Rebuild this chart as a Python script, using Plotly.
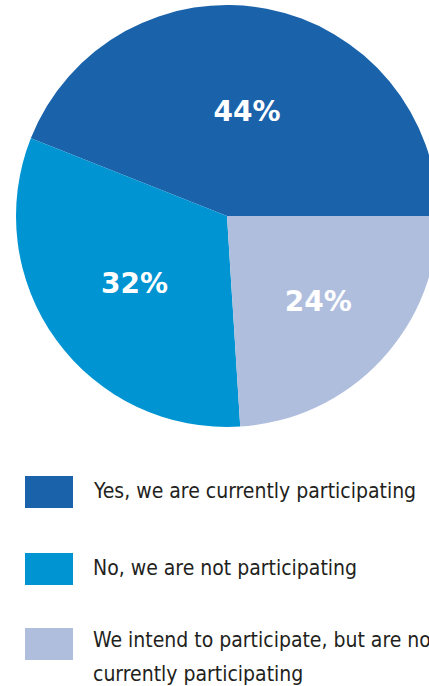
import plotly.graph_objects as go

# Survey responses
labels = [
    "Yes, we are currently participating",
    "No, we are not participating",
    "We intend to participate, but are not<br>currently participating",
]
values = [44, 32, 24]
colors = ["#1A63AB", "#0095D2", "#B0BEDE"]

W, H = 441, 686
cx, cy, R = 227, 216, 211  # pie centre and radius in px

# first slice runs counter-clockwise from 3 o'clock; plotly's rotation marks
# the clockwise-most edge of that slice, measured clockwise from 12 o'clock
start_rot = 90 - 360 * values[0] / sum(values)


def px_x(x):
    return x / W


def px_y(y):
    return 1 - y / H


fig = go.Figure(
    go.Pie(
        labels=labels,
        values=values,
        marker=dict(colors=colors, line=dict(width=0)),
        sort=False,
        direction="counterclockwise",
        rotation=start_rot,
        texttemplate="%{value}%",
        textposition="inside",
        insidetextorientation="horizontal",
        insidetextfont=dict(family="DejaVu Sans", size=28, color="white", weight="bold"),
        hoverinfo="label+percent",
        domain=dict(
            x=[px_x(cx - R), px_x(cx + R)],
            y=[px_y(cy + R), px_y(cy - R)],
        ),
        showlegend=False,
    )
)

# Hand-built legend: colour swatch + label per slice
swatch_top = [476, 553, 628]
first_baseline = [498, 575, 647]
line_gap = 34
fsize = 21
legend_font = dict(
    family="DejaVu Sans Condensed, Liberation Sans Narrow, Liberation Sans, sans-serif",
    size=fsize,
    color="#231F20",
)

shapes, annotations = [], []
for lab, col, top, base in zip(labels, colors, swatch_top, first_baseline):
    shapes.append(
        dict(
            type="rect", xref="paper", yref="paper",
            x0=px_x(25), x1=px_x(73), y0=px_y(top + 32), y1=px_y(top),
            fillcolor=col, line=dict(width=0),
        )
    )
    for i, line in enumerate(lab.split("<br>")):
        b = base + i * line_gap
        annotations.append(
            dict(
                xref="paper", yref="paper",
                x=px_x(91), y=px_y(b - 0.3465 * fsize),
                xanchor="left", yanchor="middle",
                text=line, showarrow=False, align="left",
                font=legend_font,
            )
        )

fig.update_layout(
    width=W,
    height=H,
    margin=dict(l=0, r=0, t=0, b=0),
    paper_bgcolor="white",
    plot_bgcolor="white",
    shapes=shapes,
    annotations=annotations,
)

fig.write_html(
    "out.html",
    post_script="document.documentElement.style.overflow='hidden';document.body.style.overflow='hidden';document.body.style.margin='0';",
)
